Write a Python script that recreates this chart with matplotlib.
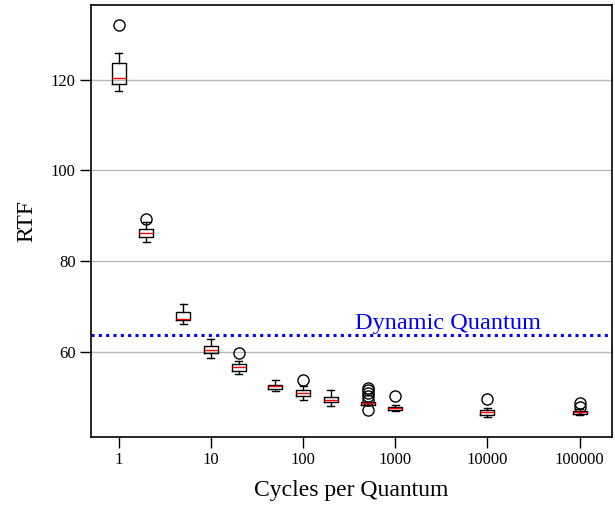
import numpy as np
import matplotlib
matplotlib.use("Agg")
import matplotlib.pyplot as plt

plt.rcParams['font.family'] = ['Liberation Serif', 'DejaVu Serif']

# cycles per quantum and box statistics (RTF)
cycles = [1, 2, 5, 10, 20, 50, 100, 200, 500, 1000, 10000, 100000]
whishi = [125.8, 88.6, 70.5, 62.9, 58.1, 53.8, 52.4, 51.6, 49.0, 48.2, 47.6, 47.4]
q3     = [123.6, 87.0, 68.9, 61.2, 57.4, 52.7, 51.5, 50.0, 48.9, 47.8, 47.2, 47.0]
med    = [120.3, 86.3, 67.2, 60.5, 56.6, 52.4, 51.0, 49.5, 48.7, 47.6, 46.7, 46.8]
q1     = [119.1, 85.4, 67.0, 59.8, 55.8, 51.9, 50.3, 48.9, 48.4, 47.3, 46.2, 46.4]
whislo = [117.6, 84.2, 66.2, 58.6, 55.1, 51.4, 49.3, 48.1, 48.2, 46.9, 45.6, 46.0]
fliers = [[132.1], [89.2], [], [], [59.7], [], [53.7], [],
          [52.0, 51.5, 50.9, 50.3, 49.5, 47.1], [50.2], [49.7], [48.7, 47.9]]

dyn_quantum = 63.7

stats = []
for i in range(len(cycles)):
    stats.append({'med': med[i], 'q1': q1[i], 'q3': q3[i],
                  'whislo': whislo[i], 'whishi': whishi[i],
                  'fliers': fliers[i]})

pos = np.log10(cycles)

fig = plt.figure(figsize=(6.15, 5.08), dpi=100)
fig.patch.set_facecolor('white')
ax = fig.add_axes([0.148, 0.140, 0.847, 0.850])

ax.yaxis.grid(True, color='#b8b8b8', linewidth=1.0, zorder=0)
ax.set_axisbelow(True)

ax.bxp(stats, positions=pos, widths=0.152, showfliers=True,
       boxprops=dict(color='black', linewidth=1.0),
       whiskerprops=dict(color='black', linewidth=1.0),
       capprops=dict(color='black', linewidth=1.0),
       medianprops=dict(color='red', linewidth=1.0),
       flierprops=dict(marker='o', markerfacecolor='none',
                       markeredgecolor='black', markersize=8,
                       markeredgewidth=1.0))

ax.axhline(dyn_quantum, color='blue', linestyle=(0, (1, 1.4)), linewidth=2.2)
ax.text(2.56, dyn_quantum + 1.3, 'Dynamic Quantum', color='blue',
        fontsize=17.5, ha='left', va='baseline')

ax.set_xlim(-0.30, 5.35)
ax.set_xticks(np.arange(6))
ax.set_xticklabels(['1', '10', '100', '1000', '10000', '100000'])
ax.set_yticks([60, 80, 100, 120])
ax.tick_params(axis='both', labelsize=12, length=8, width=1.0, pad=3)

ax.set_xlabel('Cycles per Quantum', fontsize=17, labelpad=8.5)
ax.set_ylabel('RTF', fontsize=17, labelpad=10)

for s in ax.spines.values():
    s.set_linewidth(1.2)

fig.savefig('out.png', dpi=100)
